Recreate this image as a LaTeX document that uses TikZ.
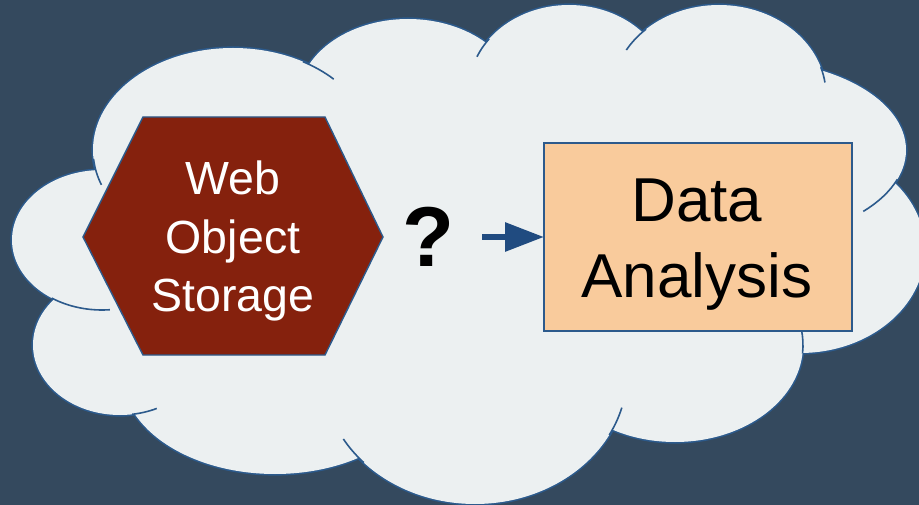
\documentclass[tikz,border=0pt]{standalone}
\usepackage{fontspec}
\setmainfont{Liberation Sans}
\usetikzlibrary{arrows.meta}
\definecolor{bgslate}{RGB}{52,73,94}
\definecolor{cloudfill}{RGB}{236,240,241}
\definecolor{edgeblue}{RGB}{44,90,140}
\definecolor{hexred}{RGB}{133,33,13}
\definecolor{peach}{RGB}{249,203,156}
\definecolor{arrowblue}{RGB}{32,75,128}
\tikzset{
  lobeedge/.style={draw=edgeblue, line width=3.2pt},
  cloudtick/.style={draw=edgeblue, line width=1.6pt},
  hexshape/.style={fill=hexred, draw=edgeblue, line width=1.4pt, line join=miter},
  hexlabel/.style={text=white, align=center, anchor=base, inner sep=0pt,
    font=\fontsize{46.5}{58.5}\selectfont},
  boxshape/.style={draw=edgeblue, fill=peach, line width=1.5pt, inner sep=0pt,
    outer sep=0pt, minimum width=308pt, minimum height=188pt},
  boxlabel/.style={text=black, align=center, anchor=base, inner sep=0pt,
    font=\fontsize{62}{76}\selectfont},
  flowarrow/.style={draw=arrowblue, line width=6pt,
    -{Triangle[length=39pt,width=28pt]}}
}
\begin{document}
\begin{tikzpicture}[x=1pt,y=-1pt]
\useasboundingbox (0,0) rectangle (919,505);
\fill[bgslate] (0,0) rectangle (919,505);

% cloud: union of elliptical lobes with an outer rim and short inner ticks
\begin{scope}
  \clip (0,0) rectangle (919,505);
  \def\lobes{233/150/140/102, 408/100/110/81, 569/90/100/85, 719/95/107/90,
    747/150/159/90, 800/250/125/103, 675/345/128/97, 475/374/152/130,
    275/374/153/100, 120/345/87/70, 102/240/90/70}
  \foreach \cx/\cy/\rx/\ry in \lobes
    \path[lobeedge] (\cx,\cy) ellipse [x radius=\rx pt, y radius=\ry pt];
  \foreach \cx/\cy/\rx/\ry in \lobes
    \fill[cloudfill] (\cx,\cy) ellipse [x radius=\rx pt, y radius=\ry pt];
  \fill[cloudfill, scale around={0.95:(480,250)}]
    (93,172) -- (310,62) -- (485,42) -- (642,32) -- (823,68) -- (897,183)
    -- (803,352) -- (617,433) -- (359,458) -- (137,415) -- (55,300) -- cycle;
  % inner ticks: center / radii / start / end angle
  \foreach \cx/\cy/\rx/\ry/\sa/\ea in {
      233/150/140/102/185/200, 233/150/140/102/60/44,
      569/90/100/85/143/157,
      719/95/107/90/133/150, 719/95/107/90/18/8,
      747/150/159/90/-19/-43,
      675/345/128/97/-5/9,
      475/374/152/130/-28/-15, 475/374/152/130/223/210,
      120/345/87/70/-82/-65,
      102/240/90/70/-124/-85}
    \path[cloudtick] (\cx,\cy) ++(\sa:\rx pt and \ry pt)
      arc[start angle=\sa, end angle=\ea, x radius=\rx pt, y radius=\ry pt];
\end{scope}

% storage hexagon (label anchored on the baseline of its last line)
\path[hexshape] (143,117) -- (325,117) -- (383,237) -- (325,355) -- (143,355)
  -- (83,237) -- cycle;
\node[hexlabel] (store) at (233,312) {Web\\Object\\Storage};

% question mark
\node[anchor=base, inner sep=0pt, font=\fontsize{85}{90}\selectfont\bfseries]
  (query) at (428,267) {?};

% analysis box
\node[boxshape] (analysis) at (698,237) {};
\node[boxlabel] (analysislabel) at (697,298) {Data\\Analysis};

% arrow into the box
\coordinate (arrowtail) at (482,237);
\draw[flowarrow] (arrowtail) -- (analysis.west);
\end{tikzpicture}
\end{document}
